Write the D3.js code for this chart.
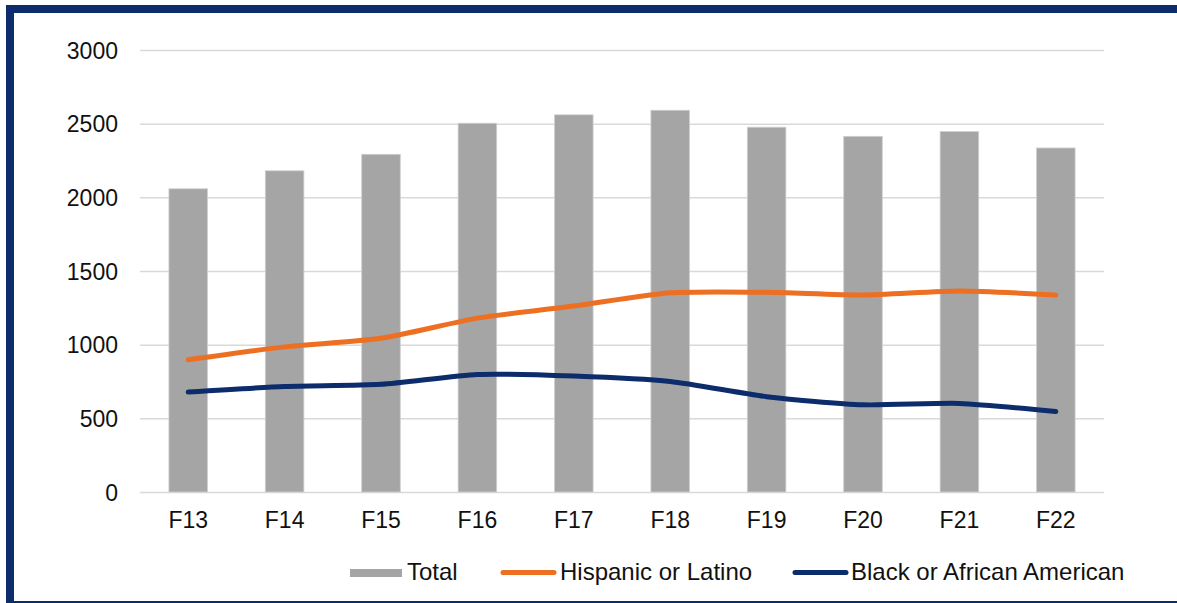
<!DOCTYPE html>
<html>
<head>
<meta charset="utf-8">
<script src="https://cdn.jsdelivr.net/npm/d3@7"></script>
<style>
  html, body { margin: 0; padding: 0; background: #fff; }
  svg { display: block; font-family: "Liberation Sans", Arial, sans-serif; }
</style>
</head>
<body>
<svg id="chart" width="1177" height="603"></svg>
<script>
// Fiscal years
const years = ["F13", "F14", "F15", "F16", "F17", "F18", "F19", "F20", "F21", "F22"];
// Total count per year (bars)
const total = [2058, 2180, 2292, 2503, 2560, 2591, 2476, 2414, 2447, 2335];
// Hispanic or Latino (line)
const hispanic = [898, 985, 1043, 1180, 1262, 1352, 1356, 1337, 1364, 1337];
// Black or African American (line)
const black = [678, 716, 731, 798, 787, 750, 647, 592, 601, 546];
// Y axis ticks
const yTicks = [0, 500, 1000, 1500, 2000, 2500, 3000];

const svg = d3.select("#chart");
const W = 1177, H = 603;
const navy = "#0c2c6b", orange = "#ec6f22", gray = "#a5a5a5", grid = "#d9d9d9";
const fontSize = 23;
const legendFont = 24;

// frame
svg.append("rect").attr("x", 0).attr("y", 0).attr("width", W).attr("height", H).attr("fill", "#fff");
svg.append("rect").attr("x", 6).attr("y", 5).attr("width", W - 6).attr("height", 8).attr("fill", navy);
svg.append("rect").attr("x", 6).attr("y", 5).attr("width", 8).attr("height", H - 5).attr("fill", navy);
svg.append("rect").attr("x", 6).attr("y", 601).attr("width", W - 6).attr("height", 2).attr("fill", navy);

const plot = { left: 140, right: 1104, top: 50, bottom: 492 };

const x = d3.scaleBand().domain(years).range([plot.left, plot.right]).paddingInner(0.6).paddingOuter(0.3);
const y = d3.scaleLinear().domain([0, 3000]).range([plot.bottom, plot.top]);

// gridlines + y labels
const yAxis = d3.axisLeft(y).tickValues(yTicks).tickSize(-(plot.right - plot.left)).tickPadding(22).tickFormat(d3.format("d"));
const gy = svg.append("g").attr("transform", `translate(${plot.left},0)`).call(yAxis);
gy.select(".domain").remove();
gy.selectAll(".tick line").attr("stroke", grid).attr("stroke-width", 1.5);
gy.selectAll(".tick text").attr("font-size", fontSize).attr("fill", "#111")
  .attr("font-family", "Liberation Sans, Arial, sans-serif").attr("dy", "0.36em");

// bars
svg.append("g").selectAll("rect").data(years).join("rect")
  .attr("x", d => x(d))
  .attr("y", (d, i) => y(total[i]))
  .attr("width", x.bandwidth())
  .attr("height", (d, i) => y(0) - y(total[i]))
  .attr("fill", gray)
  .attr("stroke", "#cfcfcf").attr("stroke-width", 0.8);

// x labels
const xAxis = d3.axisBottom(x).tickSize(0).tickPadding(20);
const gx = svg.append("g").attr("transform", `translate(0,${plot.bottom})`).call(xAxis);
gx.select(".domain").remove();
gx.selectAll(".tick text").attr("font-size", fontSize).attr("fill", "#111")
  .attr("font-family", "Liberation Sans, Arial, sans-serif");

// lines (lightly smoothed)
const cx = d => x(d) + x.bandwidth() / 2;
const line = d3.line().x(d => cx(d[0])).y(d => y(d[1])).curve(d3.curveCardinal.tension(0.35));
[[hispanic, orange], [black, navy]].forEach(([vals, col]) => {
  svg.append("path")
    .datum(years.map((yr, i) => [yr, vals[i]]))
    .attr("d", line)
    .attr("fill", "none")
    .attr("stroke", col)
    .attr("stroke-width", 5)
    .attr("stroke-linecap", "round")
    .attr("stroke-linejoin", "round");
});

// legend
const lg = svg.append("g").attr("font-size", legendFont).attr("fill", "#111");
lg.append("rect").attr("x", 350).attr("y", 569).attr("width", 52).attr("height", 8).attr("fill", gray);
lg.append("text").attr("x", 407).attr("y", 580).text("Total");
lg.append("line").attr("x1", 503).attr("x2", 554).attr("y1", 572.5).attr("y2", 572.5)
  .attr("stroke", orange).attr("stroke-width", 5).attr("stroke-linecap", "round");
lg.append("text").attr("x", 560).attr("y", 580).text("Hispanic or Latino");
lg.append("line").attr("x1", 795).attr("x2", 846).attr("y1", 572.5).attr("y2", 572.5)
  .attr("stroke", navy).attr("stroke-width", 5).attr("stroke-linecap", "round");
lg.append("text").attr("x", 851).attr("y", 580).text("Black or African American");
</script>
</body>
</html>
